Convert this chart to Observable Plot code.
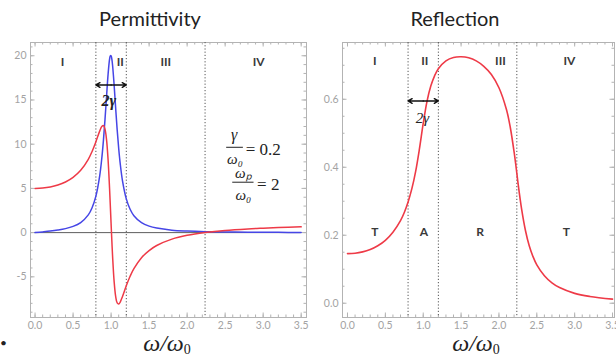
<!DOCTYPE html>
<html><head><meta charset="utf-8">
<script src="https://cdn.jsdelivr.net/npm/d3@7"></script>
<script src="https://cdn.jsdelivr.net/npm/@observablehq/plot@0.6"></script>
<style>
body{margin:0;background:#fff;}
#wrap{position:relative;width:616px;height:360px;overflow:hidden;font-family:Lato,"Open Sans",sans-serif;}
.panel{position:absolute;top:0;}
.title{position:absolute;top:6px;font-size:20px;line-height:24px;color:#222;transform:translateX(-50%);white-space:nowrap;}
.xlab{position:absolute;top:333px;line-height:20px;font-family:"Liberation Serif",serif;font-style:italic;font-size:24px;color:#222;transform:translateX(-50%);white-space:nowrap;}
.xlab sub{font-size:14px;font-style:normal;line-height:0;vertical-align:-3px;}
.bullet{position:absolute;left:0;top:336px;font-size:12px;line-height:14px;color:#222;}
</style></head>
<body><div id="wrap">
<div id="left" class="panel" style="left:0"></div>
<div id="right" class="panel" style="left:300px"></div>
<div class="title" style="left:150px">Permittivity</div>
<div class="title" style="left:455px">Reflection</div>
<div class="xlab" style="left:167px">ω/ω<sub>0</sub></div>
<div class="xlab" style="left:476px">ω/ω<sub>0</sub></div>
<div class="bullet">•</div>
</div>
<script>
// ---- data ----
const omegaP = [0,0.1,0.2,0.3,0.4,0.5,0.6,0.7,0.75,0.8,0.85,0.88,0.9,0.92,0.94,0.96,0.98,0.99,1.0,1.01,1.02,1.04,1.06,1.08,1.1,1.12,1.15,1.2,1.25,1.3,1.4,1.5,1.6,1.8,2.0,2.236,2.5,2.8,3.0,3.2,3.5];
const epsRe = [5,5.04,5.16,5.38,5.72,6.24,7.04,8.29,9.18,10.28,11.48,12.02,12.10,11.70,10.52,8.29,4.96,3.01,1.0,-0.95,-2.74,-5.54,-7.21,-7.95,-8.08,-7.86,-7.22,-6.01,-4.94,-4.08,-2.84,-2.03,-1.46,-0.74,-0.31,0.01,0.25,0.42,0.50,0.57,0.65];
const epsIm = [0,0.08,0.17,0.29,0.45,0.70,1.13,2.00,2.81,4.12,6.42,8.60,10.51,12.81,15.38,17.86,19.61,20.0,20.0,19.61,18.87,16.67,14.08,11.62,9.51,7.80,5.86,3.82,2.64,1.91,1.12,0.73,0.51,0.28,0.18,0.11,0.07,0.05,0.04,0.03,0.02];
const omegaR = [0,0.1,0.2,0.3,0.4,0.5,0.6,0.7,0.75,0.8,0.85,0.9,0.95,1.0,1.05,1.1,1.15,1.2,1.3,1.4,1.5,1.6,1.7,1.8,1.9,2.0,2.1,2.15,2.2,2.236,2.25,2.3,2.35,2.4,2.45,2.5,2.6,2.7,2.8,3.0,3.2,3.5];
const reflect = [0.146,0.147,0.151,0.158,0.169,0.185,0.209,0.243,0.267,0.298,0.337,0.388,0.454,0.529,0.594,0.639,0.669,0.690,0.713,0.723,0.725,0.722,0.713,0.697,0.673,0.634,0.569,0.517,0.445,0.383,0.357,0.276,0.214,0.169,0.137,0.113,0.081,0.060,0.046,0.029,0.020,0.012];
const boundaries = [0.8, 1.2, 2.236];
const xTickValues = [0,0.5,1,1.5,2,2.5,3,3.5];
const epsTickValues = [-5,0,5,10,15,20];
const reflTickValues = [0,0.2,0.4,0.6];
const regionNames = ["I","II","III","IV"];
const bandNames = ["T","A","R","T"];
// annotation anchors (data units)
const permRegionX = [0.36,1.12,1.72,2.94];
const reflRegionX = [0.36,1.02,2.02,2.93];
const reflBandX = [0.36,1.01,1.75,2.89];

const permData = omegaP.map((w,i)=>({w, re: epsRe[i], im: epsIm[i]}));
const reflData = omegaR.map((w,i)=>({w, r: reflect[i]}));

const RED = "#ee3a47", BLUE = "#4646e6", FRAME = "#b3b3b3", LABEL = "#a3a3a3";

function frameMarks(xMinor, yMajor, yMinor, fw, fh, yFmt) {
  const t = {stroke: FRAME, strokeWidth: 1};
  return [
    Plot.frame({stroke: FRAME}),
    Plot.tickX(xMinor, {x: d=>d, insetTop: fh-2.5, ...t}),
    Plot.tickX(xTickValues, {x: d=>d, insetTop: fh-4.5, ...t}),
    Plot.tickX(xMinor, {x: d=>d, insetBottom: fh-2.5, ...t}),
    Plot.tickX(xTickValues, {x: d=>d, insetBottom: fh-4.5, ...t}),
    Plot.tickY(yMinor, {y: d=>d, insetRight: fw-2.5, ...t}),
    Plot.tickY(yMajor, {y: d=>d, insetRight: fw-4.5, ...t}),
    Plot.tickY(yMinor, {y: d=>d, insetLeft: fw-2.5, ...t}),
    Plot.tickY(yMajor, {y: d=>d, insetLeft: fw-4.5, ...t}),
    Plot.axisX(xTickValues, {tickSize: 0, tickPadding: 4, tickFormat: d3.format(".1f"), label: null, fontSize: 10.5, color: LABEL}),
    Plot.axisY(yMajor, {tickSize: 0, tickPadding: 4, tickFormat: yFmt, label: null, fontSize: 10.5, color: LABEL})
  ];
}

const H = 345, mT = 42, mB = 28, fh = H - mT - mB;
const romanStyle = {fontSize: 12, fontWeight: 700, fill: "#3a3a3a", fontFamily: "Lato, sans-serif"};
const mathStyle = {fontFamily: "Liberation Serif, serif", fill: "#222"};

// ---- left: permittivity ----
{
  const W = 310, mL = 30, mR = 4, fw = W - mL - mR;
  const xMinor = d3.range(0, 3.55, 0.1);
  const yMinor = d3.range(-9, 22, 1);
  const p = Plot.plot({
    width: W, height: H, marginLeft: mL, marginRight: mR, marginTop: mT, marginBottom: mB,
    x: {domain: [-0.06, 3.57]},
    y: {domain: [-9.6, 21.5]},
    style: {background: "transparent", fontFamily: "Lato, sans-serif"},
    marks: [
      ...frameMarks(xMinor, epsTickValues, yMinor, fw, fh, d=>String(d)),
      Plot.ruleY([0], {x1: 0, x2: 3.5, stroke: "#333", strokeWidth: 0.8}),
      Plot.ruleX(boundaries, {stroke: "#555", strokeWidth: 1, strokeDasharray: "1.2,2"}),
      Plot.line(permData, {x: "w", y: "im", stroke: BLUE, strokeWidth: 1.5, curve: "catmull-rom"}),
      Plot.line(permData, {x: "w", y: "re", stroke: RED, strokeWidth: 1.5, curve: "catmull-rom"}),
      Plot.text(regionNames, {x: (d,i)=>permRegionX[i], y: 19.3, text: d=>d, ...romanStyle}),
      Plot.arrow([{a: 1.0, b: 0.8}, {a: 1.0, b: 1.2}], {x1: "a", x2: "b", y1: 16.7, y2: 16.7, stroke: "#111", strokeWidth: 1.4, headLength: 5}),
      Plot.text(["2γ"], {x: 0.97, y: 14.9, text: d=>d, fontSize: 16, fontWeight: 700, fontStyle: "italic", ...mathStyle}),
      // γ/ω0 = 0.2
      Plot.text(["γ"], {x: 2.62, y: 11.0, text: d=>d, fontSize: 16, fontStyle: "italic", ...mathStyle}),
      Plot.ruleY([9.65], {x1: 2.52, x2: 2.74, stroke: "#222", strokeWidth: 1}),
      Plot.text(["ω₀"], {x: 2.63, y: 8.35, text: d=>d, fontSize: 15, fontStyle: "italic", ...mathStyle}),
      Plot.text(["= 0.2"], {x: 2.77, y: 9.4, text: d=>d, fontSize: 17, textAnchor: "start", ...mathStyle}),
      // ωp/ω0 = 2
      Plot.text(["ωₚ"], {x: 2.74, y: 6.75, text: d=>d, fontSize: 15, fontStyle: "italic", ...mathStyle}),
      Plot.ruleY([5.7], {x1: 2.60, x2: 2.88, stroke: "#222", strokeWidth: 1}),
      Plot.text(["ω₀"], {x: 2.74, y: 4.2, text: d=>d, fontSize: 15, fontStyle: "italic", ...mathStyle}),
      Plot.text(["= 2"], {x: 2.92, y: 5.45, text: d=>d, fontSize: 17, textAnchor: "start", ...mathStyle})
    ]
  });
  document.getElementById("left").append(p);
}

// ---- right: reflection ----
{
  const W = 316, mL = 42, mR = 2, fw = W - mL - mR;
  const xMinor = d3.range(0, 3.55, 0.1);
  const yMinor = d3.range(0, 0.76, 0.05);
  const p = Plot.plot({
    width: W, height: H, marginLeft: mL, marginRight: mR, marginTop: mT, marginBottom: mB,
    x: {domain: [-0.066, 3.526]},
    y: {domain: [-0.042, 0.767]},
    style: {background: "transparent", fontFamily: "Lato, sans-serif"},
    marks: [
      ...frameMarks(xMinor, reflTickValues, yMinor, fw, fh, d3.format(".1f")),
      Plot.ruleX(boundaries, {stroke: "#555", strokeWidth: 1, strokeDasharray: "1.2,2"}),
      Plot.line(reflData, {x: "w", y: "r", stroke: RED, strokeWidth: 1.6, curve: "catmull-rom"}),
      Plot.text(regionNames, {x: (d,i)=>reflRegionX[i], y: 0.713, text: d=>d, ...romanStyle}),
      Plot.text(bandNames, {x: (d,i)=>reflBandX[i], y: 0.21, text: d=>d, ...romanStyle}),
      Plot.arrow([{a: 1.0, b: 0.8}, {a: 1.0, b: 1.2}], {x1: "a", x2: "b", y1: 0.595, y2: 0.595, stroke: "#111", strokeWidth: 1.4, headLength: 5}),
      Plot.text(["2γ"], {x: 0.99, y: 0.545, text: d=>d, fontSize: 15, fontStyle: "italic", ...mathStyle})
    ]
  });
  document.getElementById("right").append(p);
}
</script>
</body></html>
